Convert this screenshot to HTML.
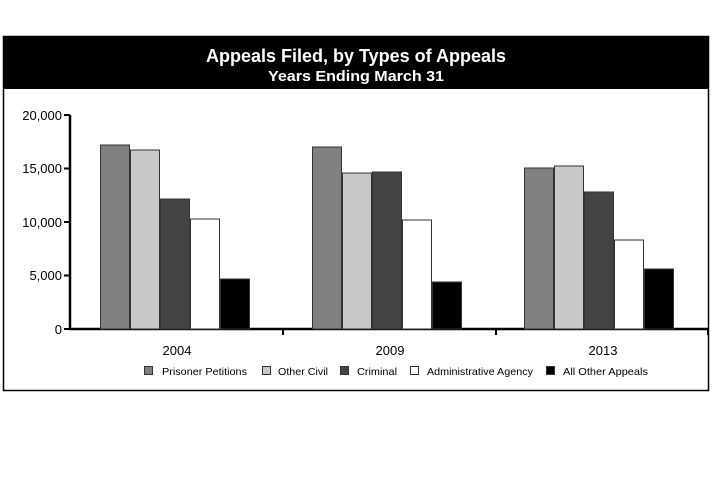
<!DOCTYPE html>
<html><head><style>body{margin:0;background:#fff}</style></head><body>
<svg width="712" height="480" xmlns="http://www.w3.org/2000/svg" font-family="Liberation Sans, sans-serif">
<rect x="3.5" y="36.5" width="705" height="354" fill="#fff" stroke="#000" stroke-width="1.5"/>
<rect x="3" y="36" width="706" height="53" fill="#000"/>
<text x="356" y="62" fill="#fff" font-size="18" font-weight="bold" text-anchor="middle" textLength="300" lengthAdjust="spacingAndGlyphs">Appeals Filed, by Types of Appeals</text>
<text x="356" y="81" fill="#fff" font-size="15" font-weight="bold" text-anchor="middle" textLength="176" lengthAdjust="spacingAndGlyphs">Years Ending March 31</text>
<g stroke="#000" stroke-width="2.5">
<line x1="70" y1="115" x2="70" y2="330"/>
<line x1="69" y1="329" x2="708" y2="329"/>
</g>
<g stroke="#000" stroke-width="2">
<line x1="64" y1="115" x2="70" y2="115"/><line x1="64" y1="168.5" x2="70" y2="168.5"/>
<line x1="64" y1="222" x2="70" y2="222"/><line x1="64" y1="275.5" x2="70" y2="275.5"/>
<line x1="64" y1="329" x2="70" y2="329"/>
<line x1="283" y1="329" x2="283" y2="335"/><line x1="496" y1="329" x2="496" y2="335"/><line x1="708" y1="329" x2="708" y2="335"/>
</g>
<g font-size="13" text-anchor="end">
<text x="62" y="120">20,000</text><text x="62" y="173">15,000</text><text x="62" y="227">10,000</text><text x="62" y="280">5,000</text><text x="62" y="334">0</text>
</g>
<g stroke="#333" stroke-width="1">
<rect x="100.5" y="145" width="29" height="184" fill="#808080"/>
<rect x="130.5" y="150" width="29" height="179" fill="#c8c8c8"/>
<rect x="160.5" y="199" width="29" height="130" fill="#444"/>
<rect x="190.5" y="219" width="29" height="110" fill="#fff"/>
<rect x="220.5" y="279" width="29" height="50" fill="#000"/>
<rect x="312.5" y="147" width="29" height="182" fill="#808080"/>
<rect x="342.5" y="173" width="29" height="156" fill="#c8c8c8"/>
<rect x="372.5" y="172" width="29" height="157" fill="#444"/>
<rect x="402.5" y="220" width="29" height="109" fill="#fff"/>
<rect x="432.5" y="282" width="29" height="47" fill="#000"/>
<rect x="524.5" y="168" width="29" height="161" fill="#808080"/>
<rect x="554.5" y="166" width="29" height="163" fill="#c8c8c8"/>
<rect x="584.5" y="192" width="29" height="137" fill="#444"/>
<rect x="614.5" y="240" width="29" height="89" fill="#fff"/>
<rect x="644.5" y="269" width="29" height="60" fill="#000"/>
</g>
<g font-size="13" text-anchor="middle">
<text x="177" y="355">2004</text><text x="390" y="355">2009</text><text x="603" y="355">2013</text>
</g>
<g stroke="#333" stroke-width="1">
<rect x="144.5" y="366.5" width="8" height="8" fill="#808080"/>
<rect x="262.5" y="366.5" width="8" height="8" fill="#c8c8c8"/>
<rect x="340.5" y="366.5" width="8" height="8" fill="#444"/>
<rect x="410.5" y="366.5" width="8" height="8" fill="#fff"/>
<rect x="546.5" y="366.5" width="8" height="8" fill="#000"/>
</g>
<g font-size="10.5">
<text x="162" y="375" textLength="85" lengthAdjust="spacingAndGlyphs">Prisoner Petitions</text>
<text x="278" y="375" textLength="50" lengthAdjust="spacingAndGlyphs">Other Civil</text>
<text x="357" y="375" textLength="40" lengthAdjust="spacingAndGlyphs">Criminal</text>
<text x="427" y="375" textLength="106" lengthAdjust="spacingAndGlyphs">Administrative Agency</text>
<text x="563" y="375" textLength="85" lengthAdjust="spacingAndGlyphs">All Other Appeals</text>
</g>
</svg>
</body></html>
